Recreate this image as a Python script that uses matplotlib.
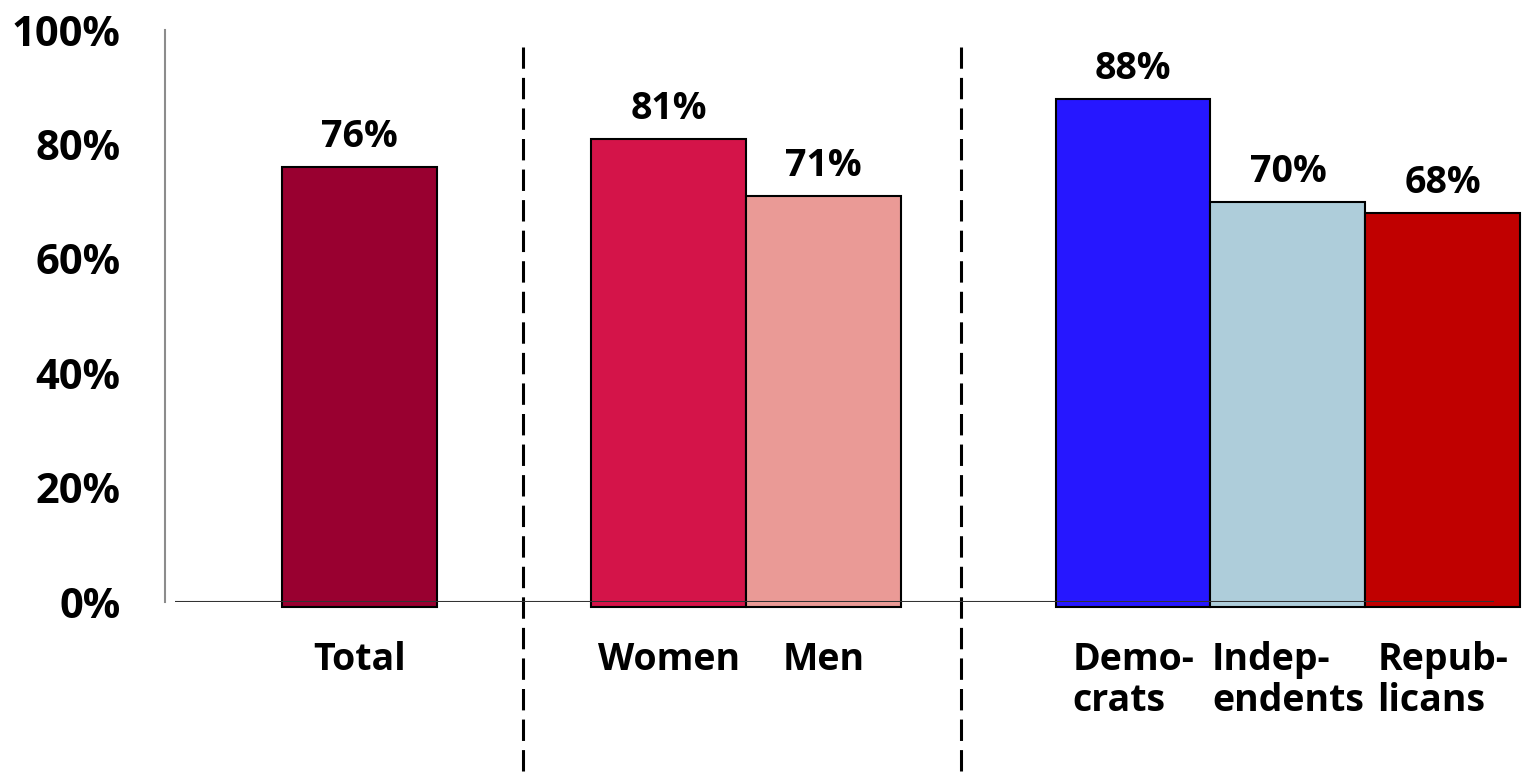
import matplotlib
matplotlib.use("Agg")
import matplotlib.pyplot as plt

# données
categories = ["Total", "Women", "Men", "Demo-\ncrats", "Indep-\nendents", "Repub-\nlicans"]
values = [76, 81, 71, 88, 70, 68]
colors = ["#990030", "#D41449", "#EA9A96", "#2617FF", "#AECDDA", "#C00000"]
yticks = [0, 20, 40, 60, 80, 100]
ytick_labels = ["0%", "20%", "40%", "60%", "80%", "100%"]

# positions des barres (groupes séparés par un espace)
positions = [0, 2, 3, 5, 6, 7]
separators = [1.06, 3.89]

plt.rcParams['font.family'] = ['Open Sans', 'DejaVu Sans']
plt.rcParams['font.weight'] = 'bold'

fig = plt.figure(figsize=(15.3, 7.74), dpi=100)
ax = fig.add_axes([0.1078, 0.2222, 0.9935 - 0.1078, 0.9612 - 0.2222])

ax.bar(positions, [v + 0.9 for v in values], bottom=-0.9, width=1.0,
       color=colors, edgecolor='black', linewidth=1.5, zorder=2, clip_on=False)

for x, v in zip(positions, values):
    ax.annotate(f"{v}%", (x, v), xytext=(0, 8), textcoords='offset points',
                ha='center', va='bottom', fontsize=27, fontweight='bold')

# ligne de base
ax.hlines(0, -1.19, 7.33, color='#333333', linewidth=1.5, zorder=3)

# séparateurs pointillés
for s in separators:
    ax.vlines(s, -29.5, 97, color='black', linewidth=2.2, linestyles=(0, (7, 3)),
              clip_on=False, zorder=1)

ax.set_xlim(-1.255, 7.5)
ax.set_ylim(0, 100)

ax.set_yticks(yticks)
ax.set_yticklabels(ytick_labels, fontsize=30, fontweight='bold')
ax.tick_params(axis='y', length=0, pad=32)

ax.set_xticks(positions)
ax.set_xticklabels(categories, fontsize=27, fontweight='bold', linespacing=1.12,
                   multialignment='left')
ax.tick_params(axis='x', length=0, pad=28)

for side in ['top', 'right', 'bottom']:
    ax.spines[side].set_visible(False)
ax.spines['left'].set_color('#8c8c8c')
ax.spines['left'].set_linewidth(1.5)

fig.savefig("out.png", dpi=100)
